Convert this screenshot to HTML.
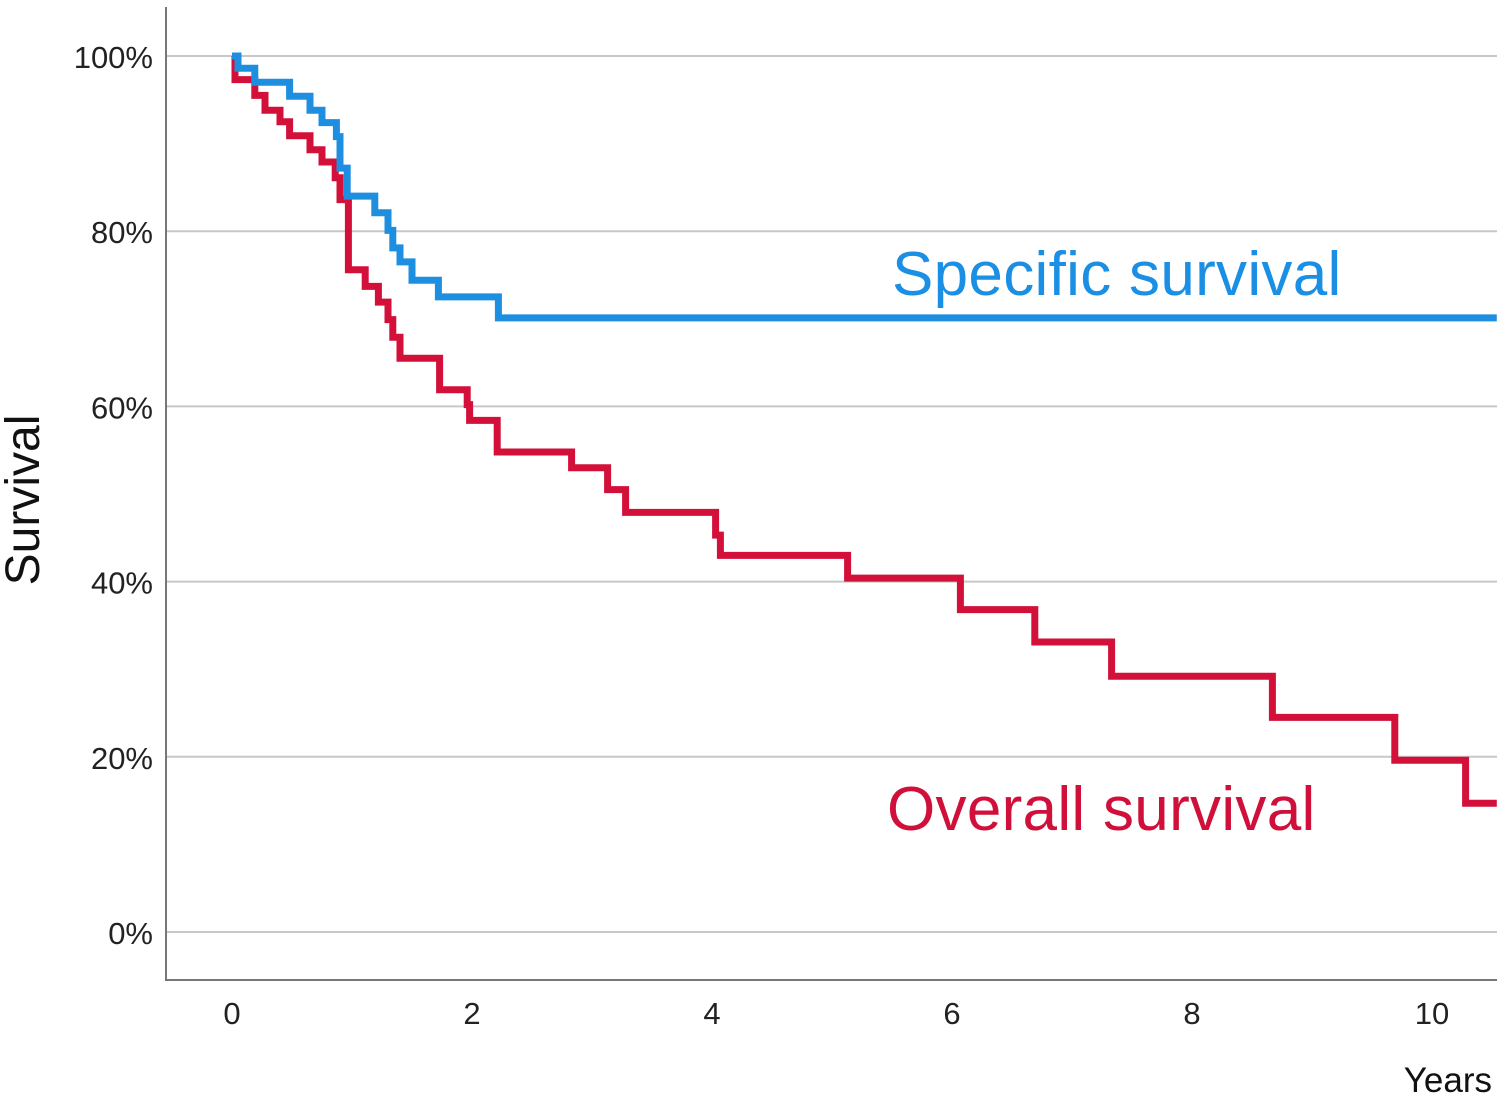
<!DOCTYPE html>
<html><head><meta charset="utf-8"><style>
html,body{margin:0;padding:0;background:#fff;}
svg{display:block;font-family:"Liberation Sans",Arial,sans-serif;}
</style></head><body>
<svg id="chart" width="1508" height="1098" viewBox="0 0 1508 1098" xmlns="http://www.w3.org/2000/svg">
<g id="grid"></g>
<g id="yticks"></g>
<g id="xticks"></g>
<line x1="166" y1="7" x2="166" y2="981" stroke="#777" stroke-width="2"/>
<line x1="165" y1="980" x2="1497" y2="980" stroke="#777" stroke-width="2"/>
<g id="series"></g>
<text transform="translate(39,500) rotate(-90)" text-anchor="middle" font-size="48" fill="#111">Survival</text>
<text x="1492" y="1092" text-anchor="end" font-size="35" fill="#111">Years</text>
<text x="892" y="295" font-size="62" letter-spacing="0.3" fill="#1a8fe3">Specific survival</text>
<text x="887" y="830" font-size="62" letter-spacing="0.3" fill="#d0103a">Overall survival</text>
</svg>
<script>
const yTicks = [0,20,40,60,80,100];
const xTicks = [0,2,4,6,8,10];
const specTimes = [0,0.05,0.19,0.48,0.65,0.75,0.87,0.9,0.96,1.19,1.3,1.34,1.4,1.5,1.72,2.22];
const specValues = [100,98.6,97.0,95.4,93.8,92.4,90.8,87.2,84.0,82.1,80.1,78.1,76.5,74.4,72.5,70.1];
const overTimes = [0,0.025,0.19,0.275,0.4,0.48,0.65,0.75,0.86,0.9,0.97,1.11,1.22,1.3,1.34,1.4,1.73,1.96,1.98,2.21,2.83,3.13,3.28,4.03,4.07,5.13,6.07,6.69,7.33,8.67,9.69,10.28];
const overValues = [100,97.3,95.5,93.8,92.5,90.9,89.3,87.9,86.1,83.6,75.6,73.7,71.9,69.9,67.9,65.5,61.9,60.2,58.4,54.8,53.0,50.5,47.9,45.3,43.0,40.4,36.8,33.1,29.2,24.5,19.6,14.7];
const xEnd = 10.54;

const NS = "http://www.w3.org/2000/svg";
const X = t => 232 + t*120;
const Y = v => 932 - v*8.76;

const grid = document.getElementById('grid');
const yt = document.getElementById('yticks');
yTicks.forEach(v => {
  const l = document.createElementNS(NS,'line');
  
  
  l.setAttribute('x1',166); l.setAttribute('x2',1497);
  l.setAttribute('y1',Y(v)); l.setAttribute('y2',Y(v));
  l.setAttribute('stroke','#c8c8c8'); l.setAttribute('stroke-width','2');
  grid.appendChild(l);
  const t = document.createElementNS(NS,'text');
  
  
  t.setAttribute('x',153); t.setAttribute('y',Y(v)+12);
  t.setAttribute('text-anchor','end'); t.setAttribute('font-size','31'); t.setAttribute('fill','#222');
  t.textContent = v + '%';
  yt.appendChild(t);
});
const xt = document.getElementById('xticks');
xTicks.forEach(v => {
  const t = document.createElementNS(NS,'text');
  
  
  t.setAttribute('x',X(v)); t.setAttribute('y',1024);
  t.setAttribute('text-anchor','middle'); t.setAttribute('font-size','31'); t.setAttribute('fill','#222');
  t.textContent = v;
  xt.appendChild(t);
});
function stepPath(times, vals){
  let d = 'M' + X(times[0]) + ' ' + Y(vals[0]);
  for (let i=1;i<times.length;i++){
    d += ' H' + X(times[i]) + ' V' + Y(vals[i]);
  }
  d += ' H' + X(xEnd);
  return d;
}
const s = document.getElementById('series');
function addSeries(times, vals, color, name){
  const p = document.createElementNS(NS,'path');
  
  
  p.setAttribute('d', stepPath(times, vals));
  p.setAttribute('fill','none'); p.setAttribute('stroke',color);
  p.setAttribute('stroke-width','7'); p.setAttribute('stroke-linejoin','miter');
  s.appendChild(p);
}
addSeries(overTimes, overValues, '#d3103a', 'overall-survival-line');
addSeries(specTimes, specValues, '#1e8fe0', 'specific-survival-line');
</script>
</body></html>
